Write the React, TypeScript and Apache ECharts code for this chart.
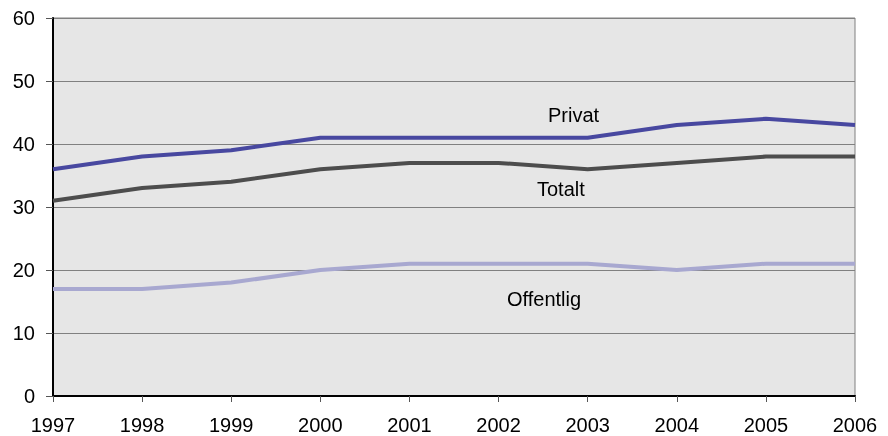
import React, { useEffect, useRef } from "react";
import * as echarts from "echarts";

const years = ["1997", "1998", "1999", "2000", "2001", "2002", "2003", "2004", "2005", "2006"];
const privat = [36, 38, 39, 41, 41, 41, 41, 43, 44, 43];
const totalt = [31, 33, 34, 36, 37, 37, 36, 37, 38, 38];
const offentlig = [17, 17, 18, 20, 21, 21, 21, 20, 21, 21];

export default function App() {
  const ref = useRef<HTMLDivElement>(null);
  useEffect(() => {
    if (!ref.current) return;
    const chart = echarts.init(ref.current, null, { renderer: "svg" });
    const font = "Liberation Sans, Arial, sans-serif";
    chart.setOption({
      animation: false,
      textStyle: { fontFamily: font },
      grid: {
        left: 53,
        right: 33,
        top: 18,
        bottom: 40,
        show: true,
        backgroundColor: "#E6E6E6",
        borderColor: "#808080",
        borderWidth: 1,
      },
      xAxis: {
        type: "category",
        data: years,
        boundaryGap: false,
        axisLine: { lineStyle: { color: "#000", width: 2 } },
        axisTick: { show: true, length: 6, lineStyle: { color: "#555" } },
        axisLabel: { color: "#000", fontSize: 20, margin: 19, fontFamily: font },
        splitLine: { show: false },
      },
      yAxis: {
        type: "value",
        min: 0,
        max: 60,
        interval: 10,
        axisLine: { show: true, lineStyle: { color: "#000", width: 2 } },
        axisTick: { show: true, length: 7, lineStyle: { color: "#555" } },
        axisLabel: { color: "#000", fontSize: 20, margin: 18, fontFamily: font },
        splitLine: { show: true, lineStyle: { color: "#808080", width: 1 } },
      },
      series: [
        {
          name: "Privat",
          type: "line",
          data: privat,
          symbol: "none",
          lineStyle: { color: "#4848A0", width: 4 },
          z: 3,
        },
        {
          name: "Totalt",
          type: "line",
          data: totalt,
          symbol: "none",
          lineStyle: { color: "#4D4D4D", width: 4 },
          z: 3,
        },
        {
          name: "Offentlig",
          type: "line",
          data: offentlig,
          symbol: "none",
          lineStyle: { color: "#A8A8D0", width: 4 },
          z: 3,
        },
      ],
      graphic: [
        { type: "text", left: 548, top: 105, style: { text: "Privat", fontSize: 20, fontFamily: font, fill: "#000" } },
        { type: "text", left: 537, top: 179, style: { text: "Totalt", fontSize: 20, fontFamily: font, fill: "#000" } },
        { type: "text", left: 507, top: 289, style: { text: "Offentlig", fontSize: 20, fontFamily: font, fill: "#000" } },
      ],
    });
    return () => chart.dispose();
  }, []);
  return <div ref={ref} style={{ position: "fixed", left: 0, top: 0, width: 888, height: 436 }} />;
}
